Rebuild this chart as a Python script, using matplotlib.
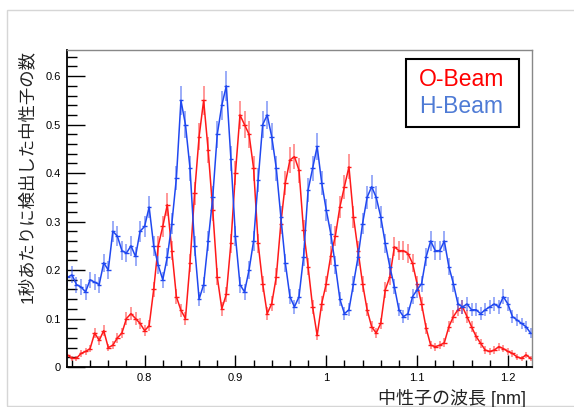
import matplotlib
matplotlib.use('Agg')
import matplotlib.pyplot as plt
from matplotlib.patches import Rectangle
import numpy as np

plt.rcParams['font.family'] = ['Liberation Sans', 'Noto Sans CJK JP', 'DejaVu Sans']

# bin centres (nm), 0.005 wide
wavelength = [0.715, 0.72, 0.725, 0.73, 0.735, 0.74, 0.745, 0.75, 0.755, 0.76,
              0.765, 0.77, 0.775, 0.78, 0.785, 0.79, 0.795, 0.80, 0.805, 0.81,
              0.815, 0.82, 0.825, 0.83, 0.835, 0.84, 0.845, 0.85, 0.855, 0.86,
              0.865, 0.87, 0.875, 0.88, 0.885, 0.89, 0.895, 0.90, 0.905, 0.91,
              0.915, 0.92, 0.925, 0.93, 0.935, 0.94, 0.945, 0.95, 0.955, 0.96,
              0.965, 0.97, 0.975, 0.98, 0.985, 0.99, 0.995, 1.0, 1.005, 1.01,
              1.015, 1.02, 1.025, 1.03, 1.035, 1.04, 1.045, 1.05, 1.055, 1.06,
              1.065, 1.07, 1.075, 1.08, 1.085, 1.09, 1.095, 1.10, 1.105, 1.11,
              1.115, 1.12, 1.125, 1.13, 1.135, 1.14, 1.145, 1.15, 1.155, 1.16,
              1.165, 1.17, 1.175, 1.18, 1.185, 1.19, 1.195, 1.2, 1.205, 1.21,
              1.215, 1.22, 1.225]

o_beam = [0.025, 0.018, 0.018, 0.028, 0.032, 0.038, 0.07, 0.055, 0.075, 0.04,
          0.045, 0.06, 0.07, 0.10, 0.11, 0.10, 0.09, 0.075, 0.085, 0.16,
          0.25, 0.29, 0.335, 0.24, 0.145, 0.117, 0.10, 0.214, 0.358, 0.475,
          0.55, 0.447, 0.324, 0.186, 0.12, 0.15, 0.255, 0.40, 0.52, 0.50,
          0.48, 0.41, 0.255, 0.172, 0.11, 0.131, 0.186, 0.296, 0.38, 0.427,
          0.434, 0.406, 0.282, 0.207, 0.124, 0.065, 0.131, 0.172, 0.23, 0.27,
          0.33, 0.372, 0.413, 0.31, 0.24, 0.172, 0.118, 0.083, 0.07, 0.09,
          0.159, 0.186, 0.248, 0.24, 0.24, 0.234, 0.214, 0.172, 0.13, 0.08,
          0.045, 0.042, 0.045, 0.05, 0.083, 0.104, 0.118, 0.124, 0.104, 0.083,
          0.063, 0.049, 0.035, 0.032, 0.035, 0.042, 0.038, 0.032, 0.028, 0.021,
          0.018, 0.025, 0.018]

h_beam = [0.185, 0.19, 0.17, 0.165, 0.155, 0.18, 0.175, 0.17, 0.215, 0.20,
          0.28, 0.27, 0.24, 0.235, 0.25, 0.228, 0.28, 0.29, 0.33, 0.25,
          0.21, 0.18, 0.227, 0.296, 0.39, 0.55, 0.50, 0.41, 0.25, 0.14,
          0.17, 0.26, 0.35, 0.48, 0.54, 0.58, 0.43, 0.27, 0.17, 0.155,
          0.2, 0.26, 0.385, 0.50, 0.52, 0.475, 0.41, 0.31, 0.214, 0.145,
          0.124, 0.145, 0.227, 0.365, 0.41, 0.455, 0.38, 0.324, 0.275, 0.21,
          0.14, 0.11, 0.118, 0.172, 0.227, 0.296, 0.35, 0.372, 0.35, 0.31,
          0.255, 0.207, 0.166, 0.118, 0.104, 0.11, 0.145, 0.159, 0.172, 0.227,
          0.26, 0.24, 0.24, 0.26, 0.207, 0.172, 0.13, 0.124, 0.13, 0.118,
          0.118, 0.11, 0.118, 0.124, 0.13, 0.124, 0.145, 0.13, 0.104, 0.097,
          0.09, 0.083, 0.07]

x = np.array(wavelength)
o = np.array(o_beam)
h = np.array(h_beam)

fig = plt.figure(figsize=(5.74, 4.07), dpi=100)
ax = fig.add_axes([66.5 / 574, 40 / 407, 465 / 574, 317 / 407])

# light canvas border like the ROOT pad
fig.patches.append(Rectangle((7 / 574, 1 / 407), 1.0, 396 / 407, transform=fig.transFigure,
                             fill=False, edgecolor='#d6d6d6', linewidth=1.0))

def draw_hist(y, col):
    err = 0.04 * np.sqrt(y)  # poisson-like
    ax.errorbar(x, y, yerr=err, fmt='none', ecolor=col, alpha=0.45, elinewidth=1.4)
    ax.errorbar(x, y, xerr=0.0025, fmt='none', ecolor=col, elinewidth=1.0)
    ax.plot(x, y, color=col, linewidth=1.1)

draw_hist(o, '#ff1a1a')
draw_hist(h, '#2048f0')

ax.set_xlim(0.714, 1.226)
ax.set_ylim(0, 0.654)
ax.set_xticks([0.8, 0.9, 1.0, 1.1, 1.2])
ax.set_xticklabels(['0.8', '0.9', '1', '1.1', '1.2'])
ax.set_yticks([0, 0.1, 0.2, 0.3, 0.4, 0.5, 0.6])
ax.set_yticklabels(['0', '0.1', '0.2', '0.3', '0.4', '0.5', '0.6'])
ax.set_xticks(np.arange(0.72, 1.23, 0.02), minor=True)
ax.set_yticks(np.arange(0.0, 0.65, 0.02), minor=True)
ax.tick_params(axis='x', which='major', direction='in', length=9, width=1, labelsize=8, pad=4)
ax.tick_params(axis='x', which='minor', direction='in', length=5, width=1)
ax.tick_params(axis='y', which='major', direction='in', length=13, width=1, labelsize=8, pad=4)
ax.tick_params(axis='y', which='minor', direction='in', length=7, width=1)
for s in ['left', 'bottom']:
    ax.spines[s].set_color('black')
    ax.spines[s].set_linewidth(1.3)
for s in ['top', 'right']:
    ax.spines[s].set_color('#888888')
    ax.spines[s].set_linewidth(1.0)

fig.text(27 / 574, 1 - 50 / 407, '1秒あたりに検出した中性子の数', rotation=90,
         ha='center', va='top', fontsize=12.5, color='#222222')
fig.text(526 / 574, 9 / 407, '中性子の波長 [nm]', ha='right', va='center',
         fontsize=13, color='#222222')

# legend box
ax.add_patch(Rectangle((0.731, 0.757), 0.243, 0.2146, transform=ax.transAxes,
                       facecolor='white', edgecolor='black', linewidth=1.5, zorder=5))
ax.text(0.849, 0.888, 'O-Beam', transform=ax.transAxes, ha='center', va='baseline',
        fontsize=16.5, color='#ff0000', zorder=6)
ax.text(0.849, 0.802, 'H-Beam', transform=ax.transAxes, ha='center', va='baseline',
        fontsize=16.5, color='#4f7bd5', zorder=6)

fig.savefig('out.png', dpi=100)
